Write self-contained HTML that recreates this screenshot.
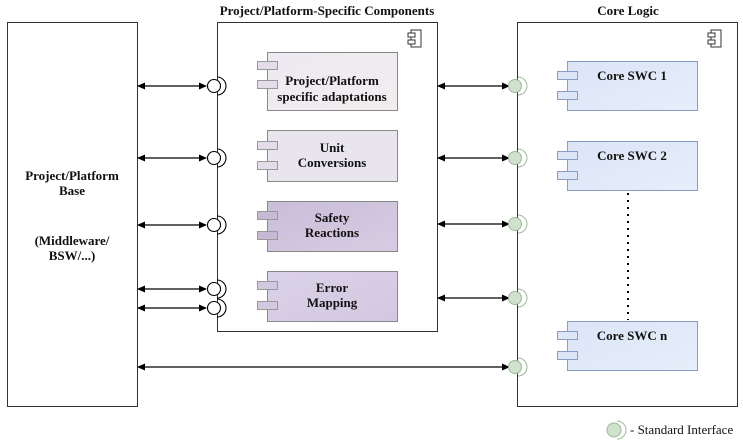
<!DOCTYPE html>
<html><head><meta charset="utf-8"><style>
html,body{margin:0;padding:0;background:#fff}
svg{display:block}
svg text{font-family:"Liberation Serif","Times New Roman",serif;font-weight:bold;font-size:13px;fill:#111}
</style></head><body>
<svg width="743" height="445" viewBox="0 0 743 445" font-family="Liberation Serif, serif">
<defs>
<marker id="a" markerWidth="8" markerHeight="8" refX="7" refY="4" orient="auto-start-reverse" markerUnits="userSpaceOnUse">
<path d="M0,0.5 L8,4 L0,7.5 z" fill="#000"/></marker>
<linearGradient id="g1" x1="0" y1="0" x2="1" y2="1"><stop offset="0" stop-color="#eeeaf1"/><stop offset="1" stop-color="#f1ecef"/></linearGradient>
<linearGradient id="g3" x1="0" y1="0" x2="1" y2="1"><stop offset="0" stop-color="#c9bdd8"/><stop offset="1" stop-color="#d7cde2"/></linearGradient>
<linearGradient id="g4" x1="0" y1="0" x2="1" y2="1"><stop offset="0" stop-color="#dad2ea"/><stop offset="1" stop-color="#d3c8e0"/></linearGradient>
<linearGradient id="gb" x1="0" y1="0" x2="1" y2="1"><stop offset="0" stop-color="#dbe5f8"/><stop offset="1" stop-color="#e6eef9"/></linearGradient>
</defs>
<text x="327" y="15" text-anchor="middle">Project/Platform-Specific Components</text>
<text x="628" y="15" text-anchor="middle">Core Logic</text>
<rect x="7.5" y="22.5" width="130" height="384" fill="#fff" stroke="#333"/>
<rect x="217.5" y="22.5" width="220" height="309" fill="#fff" stroke="#333"/>
<rect x="517.5" y="22.5" width="220" height="384" fill="#fff" stroke="#333"/>
<g fill="#fff" stroke="#333" stroke-width="1">
<rect x="411" y="30" width="10" height="17"/><rect x="408" y="33" width="7" height="4"/><rect x="408" y="40" width="7" height="4"/>
<rect x="711" y="30" width="10" height="17"/><rect x="708" y="33" width="7" height="4"/><rect x="708" y="40" width="7" height="4"/>
</g>
<text x="72" y="180" text-anchor="middle">Project/Platform</text>
<text x="72" y="195" text-anchor="middle">Base</text>
<text x="72" y="245" text-anchor="middle">(Middleware/</text>
<text x="72" y="260" text-anchor="middle">BSW/...)</text>
<g stroke="#888" stroke-width="1">
<rect x="267.5" y="52.5" width="130" height="58" fill="url(#g1)"/>
<rect x="267.5" y="130.5" width="130" height="51" fill="#e9e5ef"/>
<rect x="267.5" y="201.5" width="130" height="50" fill="url(#g3)"/>
<rect x="267.5" y="271.5" width="130" height="50" fill="url(#g4)"/>
</g>
<g stroke="#999" fill="#e4dde9">
<rect x="257.5" y="61.5" width="20" height="8"/><rect x="257.5" y="80.5" width="20" height="8"/>
<rect x="257.5" y="141.5" width="20" height="8"/><rect x="257.5" y="161.5" width="20" height="8"/>
<rect x="257.5" y="211.5" width="20" height="8" fill="#c5b9d4"/><rect x="257.5" y="231.5" width="20" height="8" fill="#c5b9d4"/>
<rect x="257.5" y="281.5" width="20" height="8" fill="#d2c8e0"/><rect x="257.5" y="301.5" width="20" height="8" fill="#d2c8e0"/>
</g>
<text x="332" y="85" text-anchor="middle">Project/Platform</text>
<text x="332" y="101" text-anchor="middle">specific adaptations</text>
<text x="332" y="152" text-anchor="middle">Unit</text>
<text x="332" y="167" text-anchor="middle">Conversions</text>
<text x="332" y="222" text-anchor="middle">Safety</text>
<text x="332" y="237" text-anchor="middle">Reactions</text>
<text x="332" y="292" text-anchor="middle">Error</text>
<text x="332" y="307" text-anchor="middle">Mapping</text>
<g stroke="#8a9cc4" fill="url(#gb)">
<rect x="567.5" y="61.5" width="130" height="49"/>
<rect x="567.5" y="141.5" width="130" height="49"/>
<rect x="567.5" y="321.5" width="130" height="49"/>
</g>
<g stroke="#8a9cc4" fill="#dde6f6">
<rect x="557.5" y="71.5" width="20" height="8"/><rect x="557.5" y="91.5" width="20" height="8"/>
<rect x="557.5" y="151.5" width="20" height="8"/><rect x="557.5" y="171.5" width="20" height="8"/>
<rect x="557.5" y="331.5" width="20" height="8"/><rect x="557.5" y="351.5" width="20" height="8"/>
</g>
<text x="632" y="80" text-anchor="middle">Core SWC 1</text>
<text x="632" y="160" text-anchor="middle">Core SWC 2</text>
<text x="632" y="340" text-anchor="middle">Core SWC n</text>
<line x1="628" y1="193" x2="628" y2="320" stroke="#000" stroke-width="2" stroke-dasharray="2,5"/>
<g stroke="#000" stroke-width="1.2" marker-start="url(#a)" marker-end="url(#a)">
<line x1="138" y1="86" x2="206" y2="86"/>
<line x1="138" y1="158" x2="206" y2="158"/>
<line x1="138" y1="225" x2="206" y2="225"/>
<line x1="138" y1="289" x2="206" y2="289"/>
<line x1="138" y1="308" x2="206" y2="308"/>
<line x1="438" y1="86" x2="509" y2="86"/>
<line x1="438" y1="158" x2="509" y2="158"/>
<line x1="438" y1="224" x2="509" y2="224"/>
<line x1="438" y1="298" x2="509" y2="298"/>
<line x1="138" y1="367" x2="509" y2="367"/>
</g>
<g fill="#fff" stroke="#000" stroke-width="1.1">
<circle cx="214" cy="86" r="6.5"/><path d="M217,77 A9,9 0 0 1 217,95" fill="none"/>
<circle cx="214" cy="158" r="6.5"/><path d="M217,149 A9,9 0 0 1 217,167" fill="none"/>
<circle cx="214" cy="225" r="6.5"/><path d="M217,216 A9,9 0 0 1 217,234" fill="none"/>
<circle cx="214" cy="289" r="6.5"/><path d="M217,280 A9,9 0 0 1 217,298" fill="none"/>
<circle cx="214" cy="308" r="6.5"/><path d="M217,299 A9,9 0 0 1 217,317" fill="none"/>
</g>
<g stroke="#9db89a" stroke-width="1">
<circle cx="515" cy="86" r="6.5" fill="#cfe2cc"/><path d="M518,77 A9,9 0 0 1 518,95" fill="none"/>
<circle cx="515" cy="158" r="6.5" fill="#cfe2cc"/><path d="M518,149 A9,9 0 0 1 518,167" fill="none"/>
<circle cx="515" cy="224" r="6.5" fill="#cfe2cc"/><path d="M518,215 A9,9 0 0 1 518,233" fill="none"/>
<circle cx="515" cy="298" r="6.5" fill="#cfe2cc"/><path d="M518,289 A9,9 0 0 1 518,307" fill="none"/>
<circle cx="515" cy="367" r="6.5" fill="#cfe2cc"/><path d="M518,358 A9,9 0 0 1 518,376" fill="none"/>
<circle cx="614" cy="430" r="7" fill="#cfe2cc"/><path d="M617,421 A9,9 0 0 1 617,439" fill="none"/>
</g>
<text x="630" y="434" style="font-weight:normal">- Standard Interface</text>
</svg>
</body></html>
